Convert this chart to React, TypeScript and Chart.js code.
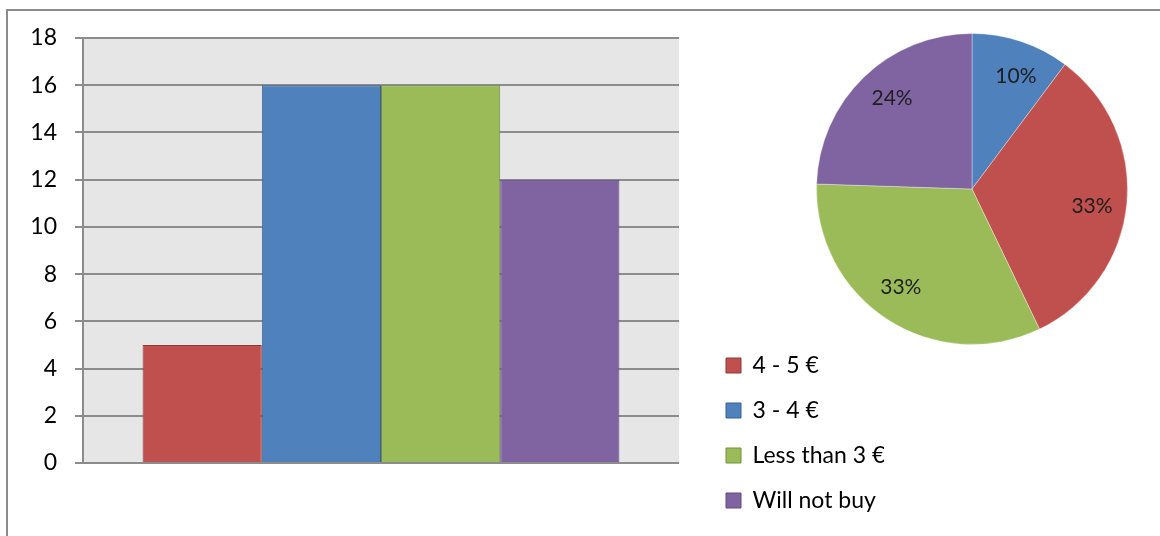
import React, { useEffect, useRef } from "react";
import { Chart, registerables } from "chart.js";

Chart.register(...registerables);

// ---- data ----
const categories: string[] = [""];
const seriesNames: string[] = ["4 - 5 €", "3 - 4 €", "Less than 3 €", "Will not buy"];
const seriesValues: number[] = [5, 16, 16, 12];
const seriesColors: string[] = ["#C0504D", "#4F81BD", "#9BBB59", "#8064A2"];
const seriesBorders: string[] = ["#8E3A38", "#3A6190", "#74903F", "#5E4A7C"];
const yTicks = { min: 0, max: 18, step: 2 };

// pie (as drawn: clockwise from top)
const pieValues: number[] = [5, 16, 16, 12];
const pieColors: string[] = ["#4F81BD", "#C0504D", "#9BBB59", "#8064A2"];

const FONT = "Lato, 'Open Sans', sans-serif";

const plotBg = {
  id: "plotBg",
  beforeDraw(chart: any) {
    const { ctx, chartArea } = chart;
    if (!chartArea) return;
    ctx.save();
    ctx.fillStyle = "#E6E6E6";
    ctx.fillRect(chartArea.left, chartArea.top, chartArea.right - chartArea.left, chartArea.bottom - chartArea.top);
    ctx.restore();
  },
};

const pieLabels = {
  id: "pieLabels",
  afterDatasetsDraw(chart: any) {
    const { ctx } = chart;
    const meta = chart.getDatasetMeta(0);
    const data = chart.data.datasets[0].data as number[];
    const total = data.reduce((a, b) => a + b, 0);
    ctx.save();
    ctx.font = `21px ${FONT}`;
    ctx.fillStyle = "#1E1E1E";
    ctx.textAlign = "center";
    ctx.textBaseline = "middle";
    meta.data.forEach((arc: any, i: number) => {
      const p = arc.getProps(["x", "y", "startAngle", "endAngle", "outerRadius"], true);
      const mid = (p.startAngle + p.endAngle) / 2 + 0.05;
      const r = p.outerRadius * 0.78;
      const txt = Math.round((data[i] / total) * 100) + "%";
      ctx.fillText(txt, p.x + Math.cos(mid) * r, p.y + Math.sin(mid) * r);
    });
    ctx.restore();
  },
};

export default function App() {
  const barRef = useRef<HTMLCanvasElement>(null);
  const pieRef = useRef<HTMLCanvasElement>(null);

  useEffect(() => {
    const bar = new Chart(barRef.current!, {
      type: "bar",
      data: {
        labels: categories,
        datasets: seriesNames.map((name, i) => ({
          label: name,
          data: [seriesValues[i]],
          backgroundColor: seriesColors[i],
          borderColor: seriesBorders[i],
          borderWidth: 1,
        })),
      },
      options: {
        responsive: false,
        animation: false,
        layout: { padding: { left: 0, top: 38, right: 276, bottom: 2 } },
        datasets: { bar: { categoryPercentage: 0.8, barPercentage: 1.0 } },
        scales: {
          x: {
            display: true,
            grid: { display: false },
            border: { display: false },
            ticks: { display: false },
            afterFit: (s: any) => {
              s.height = 71;
            },
          },
          y: {
            min: yTicks.min,
            max: yTicks.max,
            ticks: {
              stepSize: yTicks.step,
              color: "#000",
              font: { family: FONT, size: 23 },
              padding: 18,
            },
            grid: { color: "#8C8C8C", lineWidth: 2, tickLength: 8, drawTicks: true },
            border: { display: true, color: "#8C8C8C", width: 2 },
            afterFit: (s: any) => {
              s.width = 83;
            },
          },
          y2: {
            position: "right",
            display: true,
            grid: { display: false },
            border: { display: false },
            ticks: { display: false },
            afterFit: (s: any) => {
              s.width = 25;
            },
          },
        },
        plugins: {
          legend: {
            display: true,
            position: "right",
            align: "end",
            maxWidth: 180,
            labels: {
              boxWidth: 15,
              boxHeight: 15,
              padding: 22,
              color: "#000",
              font: { family: FONT, size: 23 },
            },
          },
          tooltip: { enabled: false },
        },
      },
      plugins: [plotBg],
    } as any);

    const pie = new Chart(pieRef.current!, {
      type: "pie",
      data: {
        labels: seriesNames,
        datasets: [
          {
            data: pieValues,
            backgroundColor: pieColors,
            borderColor: "rgba(255,255,255,0.35)",
            borderWidth: 1,
          },
        ],
      },
      options: {
        responsive: false,
        animation: false,
        layout: { padding: 0 },
        plugins: { legend: { display: false }, tooltip: { enabled: false } },
      },
      plugins: [pieLabels],
    } as any);

    return () => {
      bar.destroy();
      pie.destroy();
    };
  }, []);

  return (
    <div
      style={{
        position: "fixed",
        left: 0,
        top: 0,
        width: 1160,
        height: 536,
        overflow: "hidden",
        background: "#fff",
        fontFamily: FONT,
      }}
    >
      <div
        style={{
          position: "absolute",
          left: 6,
          top: 9,
          width: 1300,
          height: 700,
          border: "2px solid #8C8C8C",
          boxSizing: "border-box",
        }}
      />
      <canvas ref={barRef} width={1160} height={536} style={{ position: "absolute", left: 0, top: 0 }} />
      <canvas ref={pieRef} width={312} height={312} style={{ position: "absolute", left: 816, top: 33 }} />
    </div>
  );
}
